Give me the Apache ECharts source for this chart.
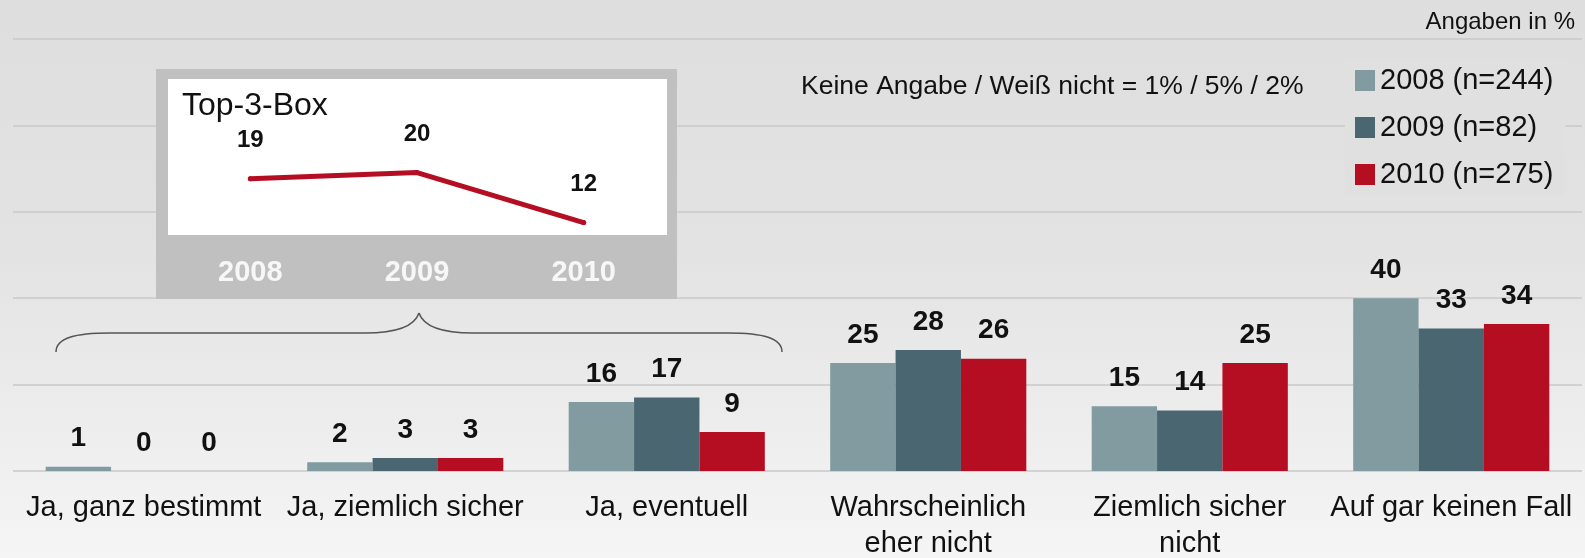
<!DOCTYPE html>
<html>
<head>
<meta charset="utf-8">
<script src="https://cdn.jsdelivr.net/npm/echarts@6/dist/echarts.min.js"></script>
<style>
  html, body { margin: 0; padding: 0; }
  #chart { width: 1585px; height: 558px; }
</style>
</head>
<body>
<div id="chart"></div>
<script>
const categories = ['Ja, ganz bestimmt', 'Ja, ziemlich sicher', 'Ja, eventuell', 'Wahrscheinlich\neher nicht', 'Ziemlich sicher\nnicht', 'Auf gar keinen Fall']
const seriesNames = ['2008 (n=244)', '2009 (n=82)', '2010 (n=275)']
const values2008 = [1, 2, 16, 25, 15, 40]
const values2009 = [0, 3, 17, 28, 14, 33]
const values2010 = [0, 3, 9, 26, 25, 34]
const topYears = ['2008', '2009', '2010']
const topBoxValues = [19, 20, 12]

const colors = ['#829ba1', '#4a6670', '#b50e22']
const font = "'Liberation Sans', Arial, sans-serif"

const chart = echarts.init(document.getElementById('chart'))

const barSeries = (name, data, color) => ({
  name,
  type: 'bar',
  xAxisIndex: 0,
  yAxisIndex: 0,
  data,
  barGap: 0,
  barCategoryGap: '25%',
  itemStyle: { color },
  label: {
    show: true,
    position: 'top',
    distance: 14,
    color: '#111',
    fontFamily: font,
    fontWeight: 'bold',
    fontSize: 28,
    lineHeight: 28
  },
  z: 2
})

// curly brace above the three "Ja" groups
const braceStroke = { stroke: '#555', lineWidth: 1.5, fill: null }
const brace = [
  { type: 'bezierCurve', shape: { x1: 56, y1: 352, cpx1: 56, cpy1: 338, cpx2: 75, cpy2: 333, x2: 110, y2: 333 } },
  { type: 'line', shape: { x1: 110, y1: 333, x2: 365, y2: 333 } },
  { type: 'bezierCurve', shape: { x1: 365, y1: 333, cpx1: 400, cpy1: 333, cpx2: 415, cpy2: 325, x2: 419, y2: 313 } },
  { type: 'bezierCurve', shape: { x1: 419, y1: 313, cpx1: 423, cpy1: 325, cpx2: 438, cpy2: 333, x2: 473, y2: 333 } },
  { type: 'line', shape: { x1: 473, y1: 333, x2: 728, y2: 333 } },
  { type: 'bezierCurve', shape: { x1: 728, y1: 333, cpx1: 763, cpy1: 333, cpx2: 782, cpy2: 338, x2: 782, y2: 352 } }
].map(el => Object.assign(el, { z: 7, style: braceStroke }))

const option = {
  animation: false,
  textStyle: { fontFamily: font },
  grid: [
    { left: 13, right: 3, top: 39, bottom: 87, outerBoundsMode: 'none' },
    { left: 167, width: 500, top: 79, height: 156, outerBoundsMode: 'none' }
  ],
  xAxis: [
    {
      type: 'category',
      gridIndex: 0,
      data: categories,
      axisLine: { show: false },
      axisTick: { show: false },
      axisLabel: {
        color: '#111',
        fontSize: 29,
        lineHeight: 36,
        margin: 19,
        interval: 0
      }
    },
    {
      type: 'category',
      gridIndex: 1,
      data: topYears,
      z: 10,
      axisLine: { show: false },
      axisTick: { show: false },
      axisLabel: {
        color: '#f7f7f7',
        fontSize: 29,
        fontWeight: 'bold',
        margin: 23
      }
    }
  ],
  yAxis: [
    {
      type: 'value',
      gridIndex: 0,
      min: 0,
      max: 100,
      interval: 20,
      axisLabel: { show: false },
      axisLine: { show: false },
      axisTick: { show: false },
      splitLine: { lineStyle: { color: '#c9c9c9', width: 1.5 } }
    },
    {
      type: 'value',
      gridIndex: 1,
      min: 10,
      max: 35,
      show: false
    }
  ],
  legend: {
    orient: 'vertical',
    left: 1345,
    top: 60,
    padding: [6, 12, 6, 10],
    backgroundColor: '#e0e0e0',
    itemWidth: 20,
    itemHeight: 21,
    itemGap: 18,
    icon: 'rect',
    data: seriesNames,
    textStyle: { color: '#111', fontSize: 29, lineHeight: 28 }
  },
  graphic: [
    {
      type: 'rect',
      z: -10,
      shape: { x: 0, y: 0, width: 1585, height: 558 },
      style: {
        fill: new echarts.graphic.LinearGradient(0, 0, 0, 1, [
          { offset: 0, color: '#dedede' },
          { offset: 0.45, color: '#e3e3e3' },
          { offset: 1, color: '#f5f5f5' }
        ])
      }
    },
    {
      type: 'rect',
      z: 5,
      shape: { x: 156, y: 69, width: 521, height: 230 },
      style: { fill: '#c0c0c0' }
    },
    {
      type: 'rect',
      z: 6,
      shape: { x: 168, y: 79, width: 499, height: 156 },
      style: { fill: '#ffffff' }
    },
    {
      type: 'text',
      z: 7,
      x: 182,
      y: 106,
      style: { text: 'Top-3-Box', fill: '#111', font: '32px ' + font, verticalAlign: 'middle' }
    },
    {
      type: 'text',
      z: 7,
      x: 1575,
      y: 22,
      style: { text: 'Angaben in %', fill: '#111', font: '24px ' + font, align: 'right', verticalAlign: 'middle' }
    },
    {
      type: 'text',
      z: 7,
      x: 801,
      y: 87,
      style: { text: 'Keine Angabe / Weiß nicht = 1% / 5% / 2%', fill: '#111', font: '26.5px ' + font, verticalAlign: 'middle' }
    },
    ...brace
  ],
  series: [
    barSeries(seriesNames[0], values2008, colors[0]),
    barSeries(seriesNames[1], values2009, colors[1]),
    barSeries(seriesNames[2], values2010, colors[2]),
    {
      name: 'Top-3-Box',
      type: 'line',
      xAxisIndex: 1,
      yAxisIndex: 1,
      data: topBoxValues,
      z: 10,
      symbol: 'circle',
      symbolSize: 5,
      itemStyle: { color: colors[2] },
      lineStyle: { color: colors[2], width: 5, cap: 'round' },
      label: {
        show: true,
        position: 'top',
        distance: 24,
        color: '#111',
        fontWeight: 'bold',
        fontSize: 24,
        lineHeight: 24
      }
    }
  ]
}

chart.setOption(option)
</script>
</body>
</html>
